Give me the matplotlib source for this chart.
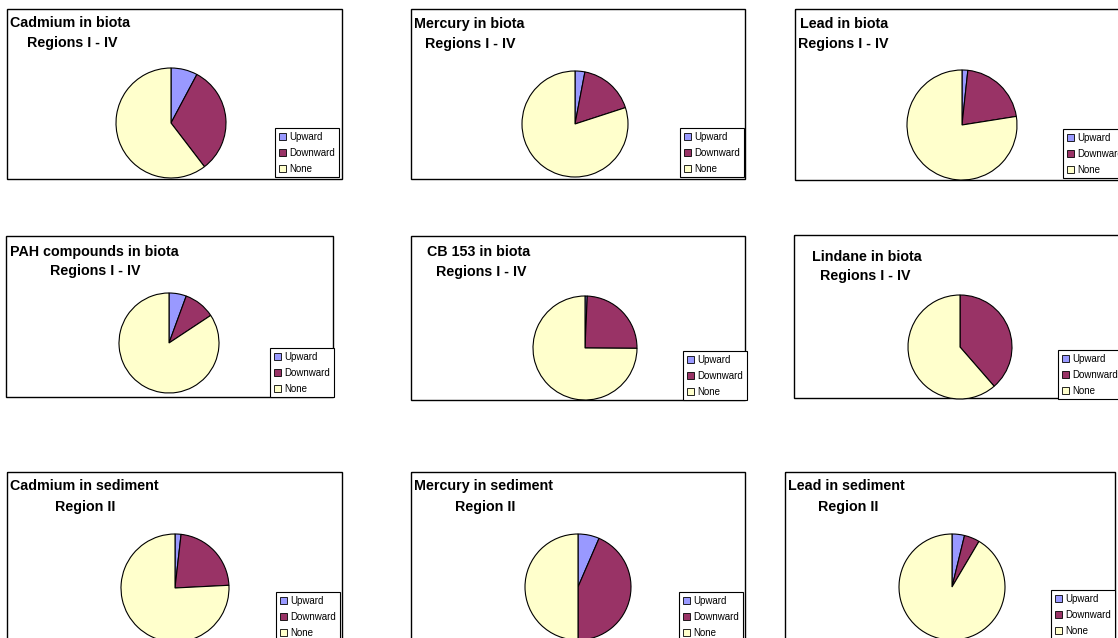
# nine pie charts of trend directions for contaminants in biota and sediment
# laid out as a 3x3 grid of framed panels, each with its own little legend

import matplotlib
matplotlib.use("Agg")
import matplotlib.pyplot as plt
from matplotlib.patches import Patch, Rectangle

W, H = 1118, 638

# data - share of time series (%) in each trend class
titles = [
    "Cadmium in biota", "Mercury in biota", "Lead in biota",
    "PAH compounds in biota", "CB 153 in biota", "Lindane in biota",
    "Cadmium in sediment", "Mercury in sediment", "Lead in sediment",
]
subtitles = [
    "Regions I - IV", "Regions I - IV", "Regions I - IV",
    "Regions I - IV", "Regions I - IV", "Regions I - IV",
    "Region II", "Region II", "Region II",
]
categories = ["Upward", "Downward", "None"]
upward   = [7.8, 3.0, 1.7, 5.6, 0.7, 0.0, 1.8, 6.5, 3.8]
downward = [31.8, 17.0, 20.8, 10.1, 24.4, 38.6, 22.4, 43.5, 4.7]
no_trend = [60.4, 80.0, 77.5, 84.3, 74.9, 61.4, 75.8, 50.0, 91.5]

# excel-style colours
COLOURS = ["#9999FF", "#993366", "#FFFFCC"]

# layout in pixels (x0, y0, x1, y1) measured from the top-left corner
frames = [
    (7, 9, 342, 179), (411, 9, 745, 179), (795, 9, 1130, 180),
    (6, 236, 333, 397), (411, 236, 745, 400), (794, 235, 1130, 398),
    (7, 472, 342, 660), (411, 472, 745, 660), (785, 472, 1115, 660),
]
# pie centre and radius
pies = [
    (171, 123, 55), (575, 124, 53), (962, 125, 55),
    (169, 343, 50), (585, 348, 52), (960, 347, 52),
    (175, 588, 54), (578, 587, 53), (952, 587, 53),
]
# legend upper-left corner
legends = [
    (275, 128), (680, 128), (1063, 129),
    (270, 348), (683, 351), (1058, 350),
    (276, 592), (679, 592), (1051, 590),
]
# title line positions (x1, y1, x2, y2)
title_pos = [
    (10, 23, 27, 43), (414, 24, 425, 44), (800, 24, 798, 44),
    (10, 252, 50, 271), (427, 252, 436, 272), (812, 257, 820, 276),
    (10, 486, 55, 507), (414, 486, 455, 507), (788, 486, 818, 507),
]

plt.rcParams["font.family"] = ["Liberation Sans", "DejaVu Sans"]

fig = plt.figure(figsize=(W / 100, H / 100), dpi=100)
bg = fig.add_axes([0, 0, 1, 1])
bg.set_xlim(0, W)
bg.set_ylim(H, 0)
bg.axis("off")

handles = [Patch(facecolor=c, edgecolor="black", linewidth=0.6) for c in COLOURS]

for i in range(9):
    x0, y0, x1, y1 = frames[i]
    bg.add_patch(Rectangle((x0, y0), x1 - x0, y1 - y0, fill=False,
                           edgecolor="black", linewidth=1.0, zorder=1))

    tx1, ty1, tx2, ty2 = title_pos[i]
    bg.text(tx1, ty1, titles[i], fontsize=10.3, fontweight="bold", va="center", ha="left")
    bg.text(tx2, ty2, subtitles[i], fontsize=10.3, fontweight="bold", va="center", ha="left")

    # pie in its own axes, sized so radius 1 == r pixels
    cx, cy, r = pies[i]
    pad = 1.05
    ax = fig.add_axes([(cx - r * pad) / W, 1 - (cy + r * pad) / H,
                       2 * r * pad / W, 2 * r * pad / H])
    ax.pie([upward[i], downward[i], no_trend[i]], colors=COLOURS,
           startangle=90, counterclock=False, radius=1,
           wedgeprops={"edgecolor": "black", "linewidth": 0.8})
    ax.set_xlim(-pad, pad)
    ax.set_ylim(-pad, pad)
    ax.set_aspect("equal")
    ax.axis("off")

    lx, ly = legends[i]
    leg = fig.legend(handles, categories, loc="upper left",
                     bbox_to_anchor=(lx, ly), bbox_transform=bg.transData,
                     fontsize=7, frameon=True, fancybox=False, framealpha=1,
                     edgecolor="black", borderpad=0.4, labelspacing=0.6,
                     handlelength=0.75, handleheight=0.75, handletextpad=0.35,
                     borderaxespad=0)
    leg.get_frame().set_linewidth(0.8)

fig.savefig("out.png", dpi=100)
